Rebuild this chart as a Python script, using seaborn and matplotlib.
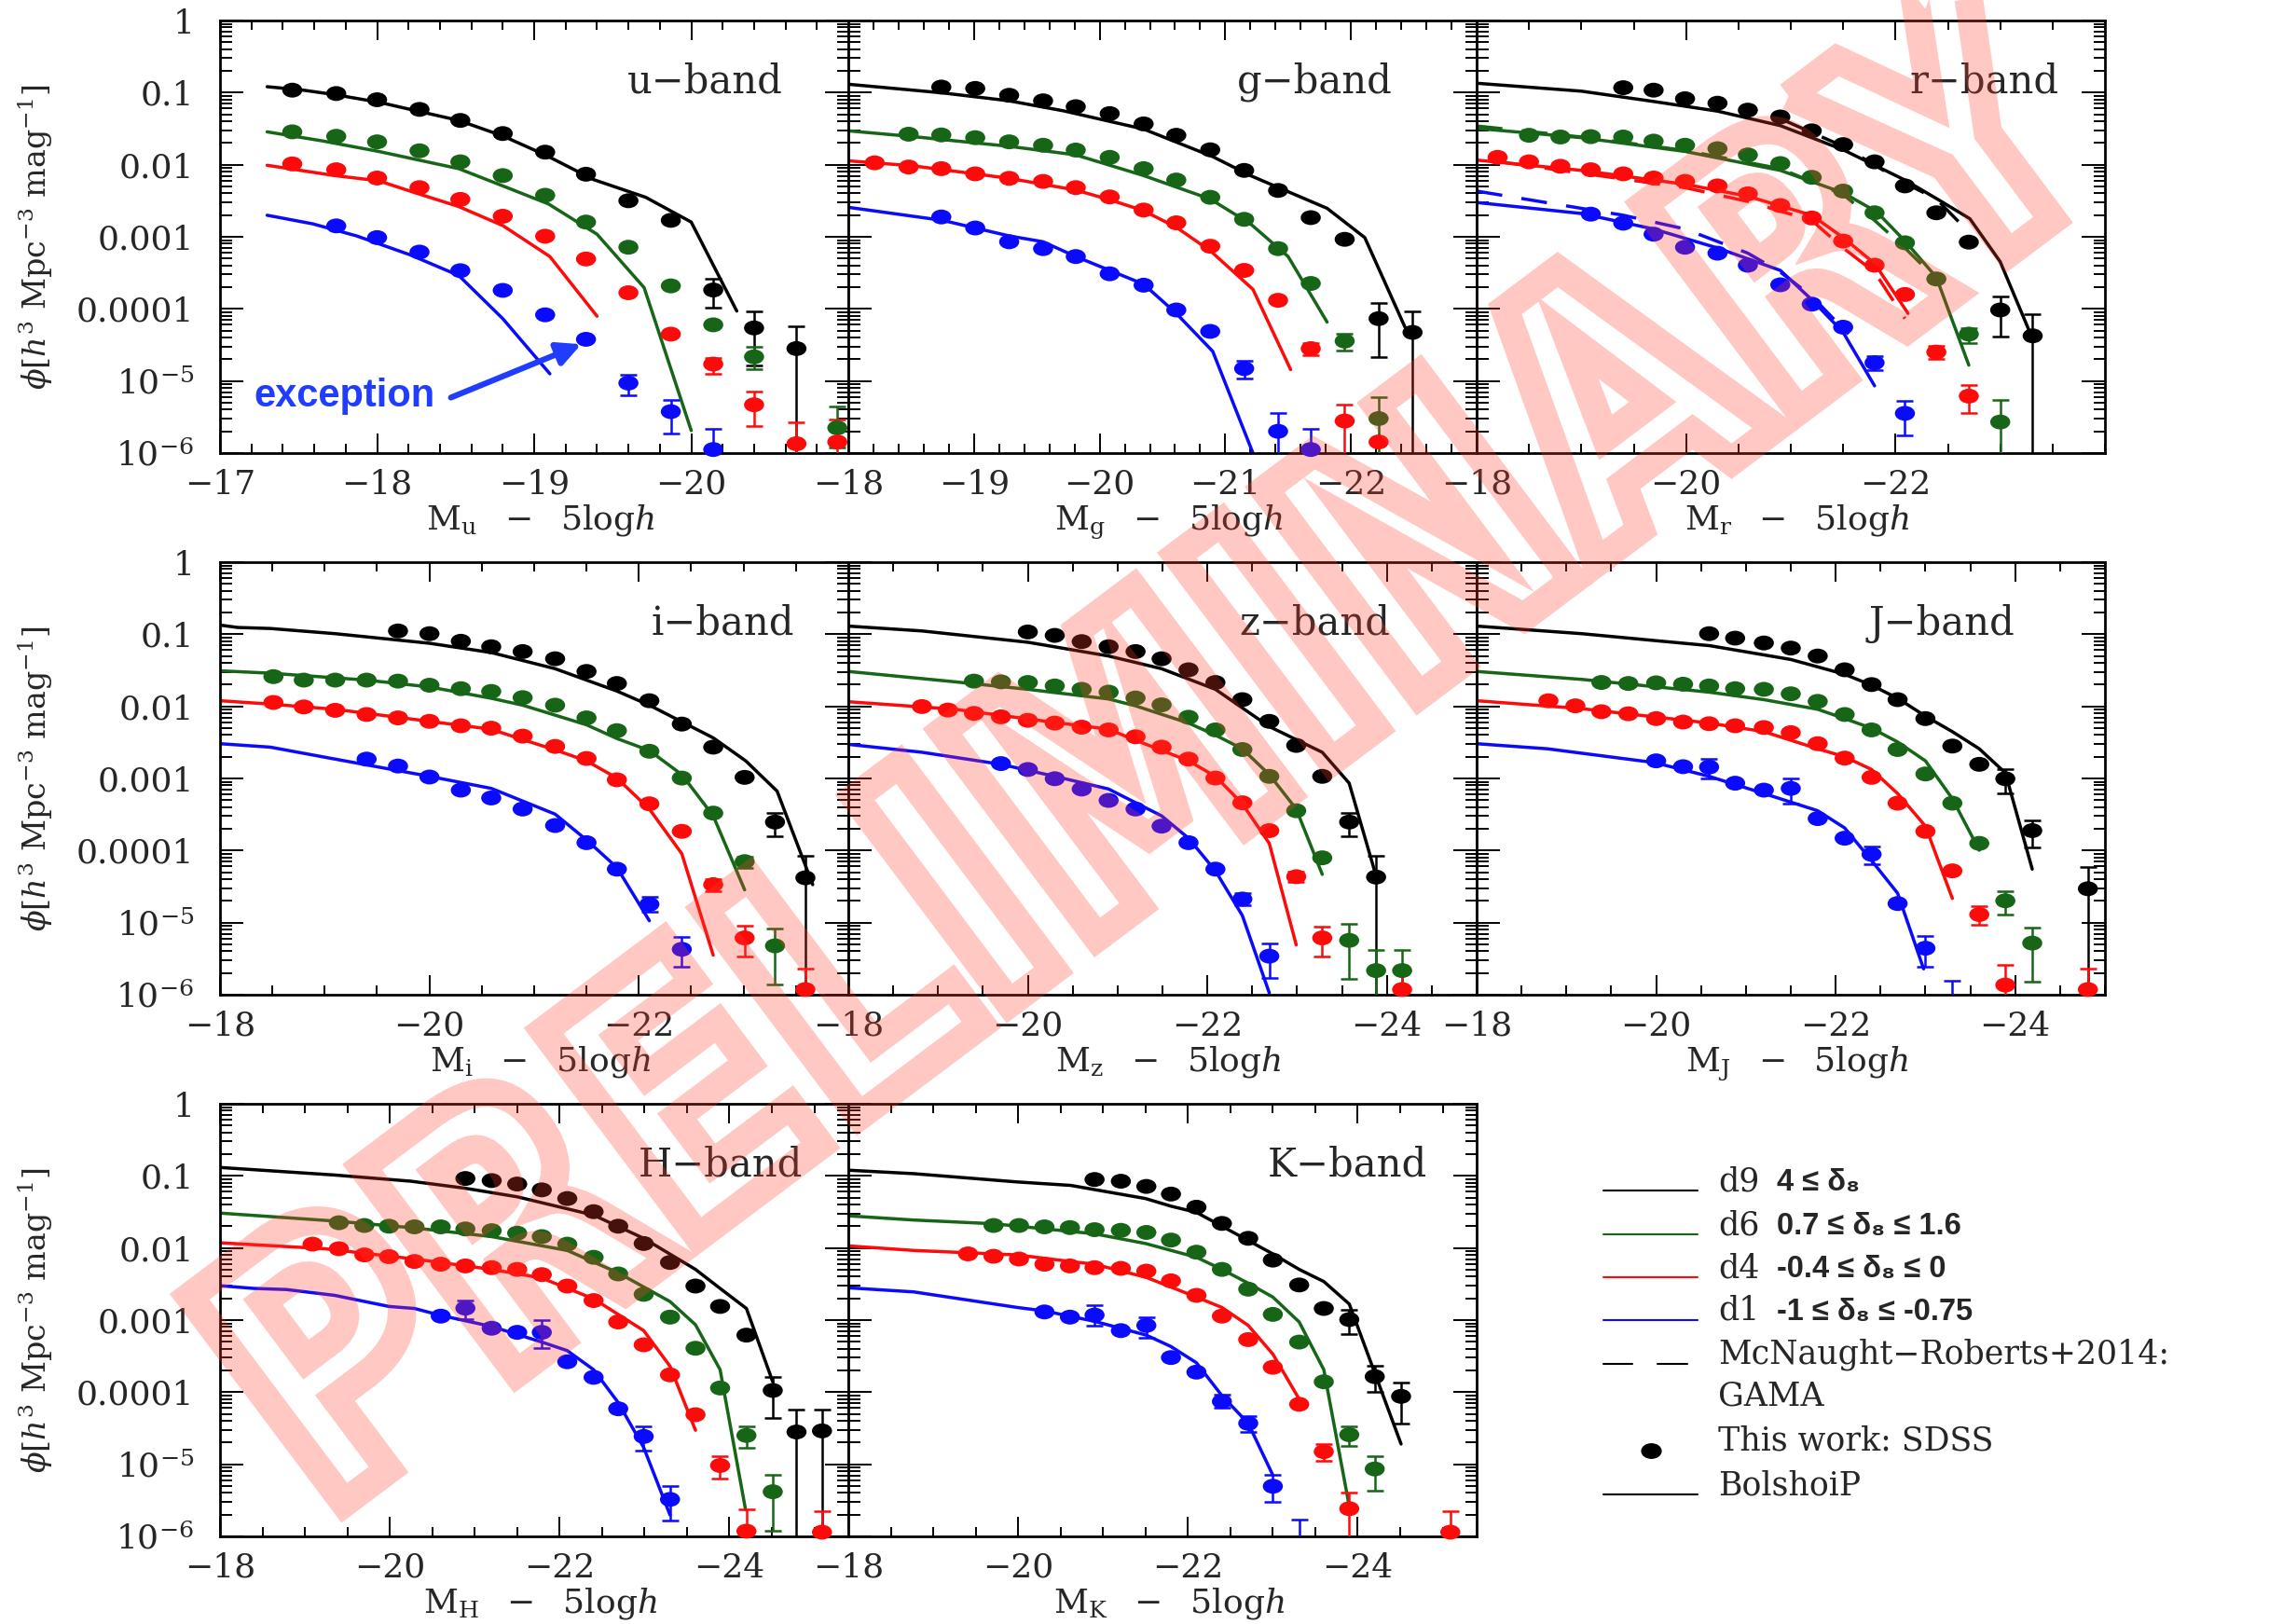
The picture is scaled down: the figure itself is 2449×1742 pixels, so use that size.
import numpy as np
import pandas as pd
import matplotlib
matplotlib.use("Agg")
import matplotlib.pyplot as plt
import seaborn as sns
from matplotlib.lines import Line2D
from matplotlib.path import Path
from matplotlib.textpath import TextPath
from matplotlib.patches import PathPatch
from matplotlib.font_manager import FontProperties
from matplotlib.transforms import Affine2D
from matplotlib.ticker import FixedLocator, MultipleLocator, LogLocator, NullFormatter, FixedFormatter, FuncFormatter

# ---------------------------------------------------------------------------
# Data: (absolute magnitude M - 5 log h, log10 phi)
# ---------------------------------------------------------------------------
DENSITIES = ["d9", "d6", "d4", "d1"]

# ---- u band
U_POINTS = {
    "d9": [(-17.46, -0.966), (-17.74, -1.013), (-18.00, -1.099), (-18.27, -1.233), (-18.53, -1.386),
           (-18.80, -1.568), (-19.07, -1.826), (-19.33, -2.132), (-19.60, -2.50), (-19.87, -2.772),
           (-20.14, -3.738), (-20.40, -4.264), (-20.67, -4.55)],
    "d6": [(-17.46, -1.544), (-17.74, -1.606), (-18.00, -1.683), (-18.27, -1.807), (-18.53, -1.960),
           (-18.80, -2.151), (-19.07, -2.424), (-19.33, -2.796), (-19.60, -3.145), (-19.87, -3.681),
           (-20.14, -4.221), (-20.40, -4.665), (-20.93, -5.65)],
    "d4": [(-17.46, -1.989), (-17.74, -2.07), (-18.00, -2.185), (-18.27, -2.318), (-18.53, -2.481),
           (-18.80, -2.715), (-19.07, -2.992), (-19.33, -3.308), (-19.60, -3.776), (-19.87, -4.35),
           (-20.14, -4.766), (-20.40, -5.33), (-20.67, -5.87), (-20.93, -5.846)],
    "d1": [(-17.74, -2.849), (-18.00, -3.011), (-18.27, -3.212), (-18.53, -3.47), (-18.80, -3.743),
           (-19.07, -4.082), (-19.33, -4.422), (-19.60, -5.029), (-19.87, -5.425), (-20.14, -5.951)],
}
U_MODEL = {
    "d9": [(-17.30, -0.918), (-17.53, -0.966), (-17.73, -1.028), (-18.01, -1.133), (-18.26, -1.257),
           (-18.52, -1.386), (-18.80, -1.601), (-19.07, -1.864), (-19.38, -2.208), (-19.71, -2.452),
           (-20.00, -2.796), (-20.29, -4.03)],
    "d6": [(-17.30, -1.544), (-17.66, -1.673), (-18.01, -1.816), (-18.52, -2.055), (-18.80, -2.294),
           (-19.09, -2.543), (-19.40, -2.964), (-19.70, -3.705), (-20.00, -5.688)],
    "d4": [(-17.30, -2.008), (-17.73, -2.151), (-18.01, -2.223), (-18.21, -2.366), (-18.52, -2.581),
           (-18.80, -2.844), (-19.10, -3.274), (-19.40, -4.101)],
    "d1": [(-17.30, -2.701), (-17.59, -2.820), (-17.87, -2.988), (-18.21, -3.25), (-18.52, -3.537),
           (-18.80, -4.135), (-19.10, -4.9)],
}
# error bars: (density, x, log10 top, log10 bottom)
U_ERRORS = [("d9", -20.14, -3.576, -3.977), ("d9", -20.40, -4.039, -4.790), ("d9", -20.67, -4.245, -6.5),
            ("d6", -20.40, -4.532, -4.837), ("d6", -20.93, -5.354, -5.927),
            ("d4", -20.14, -4.675, -4.900), ("d4", -20.40, -5.153, -5.631), ("d4", -20.67, -5.569, -6.5),
            ("d4", -20.93, -5.535, -6.5),
            ("d1", -19.60, -4.914, -5.201), ("d1", -19.87, -5.258, -5.727), ("d1", -20.14, -5.664, -6.5)]

# ---- g band
G_POINTS = {
    "d9": [(-18.74, -0.923), (-19.01, -0.942), (-19.28, -1.037), (-19.55, -1.114), (-19.81, -1.195),
           (-20.08, -1.291), (-20.35, -1.434), (-20.61, -1.592), (-20.88, -1.793), (-21.15, -2.079),
           (-21.42, -2.357), (-21.68, -2.734), (-21.95, -3.035), (-22.22, -4.135), (-22.49, -4.326)],
    "d6": [(-18.48, -1.577), (-18.74, -1.587), (-19.01, -1.625), (-19.28, -1.683), (-19.55, -1.730),
           (-19.81, -1.797), (-20.08, -1.898), (-20.35, -2.055), (-20.61, -2.213), (-20.88, -2.452),
           (-21.15, -2.758), (-21.42, -3.164), (-21.68, -3.647), (-21.95, -4.446), (-22.22, -5.521)],
    "d4": [(-18.21, -1.974), (-18.48, -2.032), (-18.74, -2.055), (-19.01, -2.127), (-19.28, -2.189),
           (-19.55, -2.232), (-19.81, -2.318), (-20.08, -2.447), (-20.35, -2.629), (-20.61, -2.806),
           (-20.88, -3.131), (-21.15, -3.466), (-21.42, -3.881), (-21.68, -4.551), (-21.95, -5.555),
           (-22.22, -5.846)],
    "d1": [(-18.74, -2.725), (-19.01, -2.878), (-19.28, -3.069), (-19.55, -3.164), (-19.81, -3.274),
           (-20.08, -3.513), (-20.35, -3.671), (-20.61, -4.015), (-20.88, -4.312), (-21.15, -4.828),
           (-21.42, -5.698), (-21.68, -5.951)],
}
G_MODEL = {
    "d9": [(-18.0, -0.884), (-18.75, -1.004), (-19.28, -1.114), (-19.71, -1.252), (-20.35, -1.506),
           (-20.90, -1.888), (-21.20, -2.151), (-21.81, -2.605), (-22.11, -3.011), (-22.43, -4.254)],
    "d6": [(-18.0, -1.530), (-18.52, -1.611), (-19.28, -1.745), (-19.81, -1.864), (-20.35, -2.151),
           (-20.88, -2.476), (-21.20, -2.820), (-21.50, -3.274), (-21.81, -4.183)],
    "d4": [(-18.0, -1.946), (-18.52, -2.017), (-19.28, -2.189), (-19.81, -2.352), (-20.08, -2.486),
           (-20.35, -2.639), (-20.61, -2.868), (-20.88, -3.193), (-21.22, -3.729), (-21.52, -4.842)],
    "d1": [(-18.0, -2.591), (-18.75, -2.772), (-19.28, -2.988), (-19.55, -3.069), (-19.81, -3.274),
           (-20.08, -3.466), (-20.35, -3.657), (-20.61, -4.063), (-20.90, -4.589), (-21.22, -6.0)],
}
G_ERRORS = [("d9", -22.22, -3.920, -4.670), ("d9", -22.49, -4.030, -6.5),
            ("d6", -21.95, -4.350, -4.579), ("d6", -22.22, -5.220, -6.5),
            ("d4", -21.68, -4.469, -4.637), ("d4", -21.95, -5.330, -6.5),
            ("d1", -21.15, -4.723, -4.962), ("d1", -21.42, -5.449, -6.5), ("d1", -21.68, -5.664, -6.5)]

# ---- r band
R_POINTS = {
    "d9": [(-19.40, -0.932), (-19.69, -0.966), (-19.99, -1.085), (-20.30, -1.147), (-20.59, -1.243),
           (-20.90, -1.338), (-21.20, -1.530), (-21.50, -1.721), (-21.80, -1.960), (-22.09, -2.294),
           (-22.39, -2.667), (-22.70, -3.074), (-23.00, -4.015), (-23.31, -4.374)],
    "d6": [(-18.50, -1.592), (-18.80, -1.616), (-19.09, -1.611), (-19.40, -1.616), (-19.69, -1.673),
           (-19.99, -1.730), (-20.30, -1.778), (-20.59, -1.864), (-20.90, -1.984), (-21.20, -2.175),
           (-21.50, -2.366), (-21.80, -2.667), (-22.09, -3.083), (-22.39, -3.585), (-22.70, -4.350),
           (-23.00, -5.569)],
    "d4": [(-18.20, -1.898), (-18.50, -1.960), (-18.80, -2.022), (-19.09, -2.070), (-19.40, -2.127),
           (-19.69, -2.185), (-19.99, -2.232), (-20.30, -2.294), (-20.59, -2.404), (-20.90, -2.567),
           (-21.20, -2.739), (-21.50, -3.059), (-21.80, -3.394), (-22.09, -3.800), (-22.39, -4.599),
           (-22.70, -5.210)],
    "d1": [(-19.09, -2.686), (-19.40, -2.811), (-19.69, -2.964), (-19.99, -3.145), (-20.30, -3.227),
           (-20.59, -3.394), (-20.90, -3.666), (-21.20, -3.934), (-21.50, -4.254), (-21.80, -4.747),
           (-22.09, -5.449)],
}
R_MODEL = {
    "d9": [(-18.0, -0.870), (-19.0, -0.980), (-19.69, -1.123), (-20.30, -1.257), (-20.90, -1.458),
           (-21.50, -1.793), (-22.09, -2.213), (-22.41, -2.486), (-22.71, -2.749), (-23.0, -3.346),
           (-23.29, -4.35)],
    "d6": [(-18.0, -1.496), (-19.0, -1.625), (-19.99, -1.816), (-20.90, -2.079), (-21.50, -2.39),
           (-21.82, -2.653), (-22.09, -3.059), (-22.39, -3.561), (-22.70, -4.78)],
    "d4": [(-18.0, -1.936), (-19.0, -2.079), (-19.99, -2.271), (-20.59, -2.438), (-21.20, -2.701),
           (-21.50, -3.011), (-21.80, -3.370), (-22.12, -4.063)],
    "d1": [(-18.0, -2.524), (-19.0, -2.677), (-19.69, -2.892), (-20.30, -3.155), (-20.90, -3.466),
           (-21.20, -3.872), (-21.50, -4.326), (-21.80, -5.067)],
}
# McNaught-Roberts+2014 GAMA (dashed), r band only
R_GAMA = {
    "d9": [(-20.90, -1.362), (-21.50, -1.745), (-22.09, -2.256), (-22.39, -2.476), (-22.72, -2.964)],
    "d6": [(-18.0, -1.463), (-19.0, -1.616), (-19.99, -1.802), (-20.90, -2.055), (-21.50, -2.414),
           (-21.80, -2.772), (-22.09, -3.155), (-22.39, -3.585)],
    "d4": [(-18.22, -1.960), (-19.99, -2.318), (-20.59, -2.510), (-21.20, -2.772), (-21.50, -3.155),
           (-21.80, -3.489), (-22.09, -4.135)],
    "d1": [(-18.0, -2.366), (-19.40, -2.701), (-19.99, -2.892), (-20.59, -3.227), (-20.90, -3.489),
           (-21.20, -3.824), (-21.55, -4.35)],
}
R_ERRORS = [("d9", -23.00, -3.824, -4.388), ("d9", -23.31, -4.073, -6.5),
            ("d6", -22.70, -4.264, -4.469), ("d6", -23.00, -5.268, -6.5),
            ("d4", -22.39, -4.517, -4.694), ("d4", -22.70, -5.057, -5.449),
            ("d1", -21.80, -4.660, -4.852), ("d1", -22.09, -5.282, -5.760)]

# ---- i band
I_POINTS = {
    "d9": [(-19.70, -0.954), (-20.00, -0.992), (-20.30, -1.097), (-20.59, -1.173), (-20.89, -1.240),
           (-21.20, -1.340), (-21.50, -1.516), (-21.79, -1.683), (-22.10, -1.922), (-22.41, -2.246),
           (-22.71, -2.566), (-23.01, -2.985), (-23.30, -3.605), (-23.59, -4.378)],
    "d6": [(-18.51, -1.588), (-18.80, -1.636), (-19.10, -1.636), (-19.40, -1.636), (-19.70, -1.650),
           (-20.00, -1.707), (-20.30, -1.755), (-20.59, -1.793), (-20.89, -1.879), (-21.20, -1.984),
           (-21.50, -2.160), (-21.79, -2.337), (-22.10, -2.623), (-22.41, -2.995), (-22.71, -3.481),
           (-23.01, -4.154), (-23.30, -5.322)],
    "d4": [(-18.51, -1.946), (-18.80, -2.008), (-19.10, -2.055), (-19.40, -2.113), (-19.70, -2.160),
           (-20.00, -2.208), (-20.30, -2.270), (-20.59, -2.303), (-20.89, -2.413), (-21.20, -2.556),
           (-21.50, -2.723), (-21.79, -3.019), (-22.10, -3.352), (-22.41, -3.734), (-22.71, -4.473),
           (-23.01, -5.212), (-23.59, -5.928)],
    "d1": [(-19.40, -2.732), (-19.70, -2.828), (-20.00, -2.980), (-20.30, -3.162), (-20.59, -3.271),
           (-20.89, -3.424), (-21.20, -3.653), (-21.50, -3.891), (-21.79, -4.258), (-22.10, -4.745),
           (-22.41, -5.370)],
}
I_MODEL = {
    "d9": [(-18.0, -0.873), (-18.17, -0.906), (-18.48, -0.920), (-19.10, -0.992), (-20.0, -1.125),
           (-20.59, -1.254), (-21.20, -1.478), (-21.50, -1.636), (-21.79, -1.788), (-22.10, -1.984),
           (-22.71, -2.437), (-23.02, -2.756), (-23.32, -3.176), (-23.66, -4.473)],
    "d6": [(-18.0, -1.507), (-18.48, -1.540), (-19.40, -1.636), (-20.0, -1.731), (-20.59, -1.888),
           (-20.89, -1.984), (-21.50, -2.256), (-21.79, -2.446), (-22.10, -2.613), (-22.41, -2.947),
           (-22.71, -3.519), (-23.01, -4.545)],
    "d4": [(-18.0, -1.922), (-18.48, -1.969), (-19.10, -2.041), (-20.0, -2.208), (-20.59, -2.318),
           (-20.89, -2.461), (-21.20, -2.604), (-21.50, -2.756), (-21.79, -2.995), (-22.10, -3.424),
           (-22.41, -4.044), (-22.71, -5.451)],
    "d1": [(-18.0, -2.518), (-18.48, -2.566), (-19.10, -2.732), (-20.0, -2.971), (-20.59, -3.138),
           (-21.20, -3.495), (-21.50, -3.853), (-21.79, -4.235), (-22.10, -4.974)],
}
I_ERRORS = [("d9", -23.30, -3.472, -3.796), ("d9", -23.59, -4.068, -6.5),
            ("d6", -23.01, -4.082, -4.235), ("d6", -23.30, -5.083, -5.856),
            ("d4", -22.71, -4.402, -4.559), ("d4", -23.01, -5.045, -5.465), ("d4", -23.59, -5.641, -6.5),
            ("d1", -22.10, -4.640, -4.845), ("d1", -22.41, -5.198, -5.618)]

# ---- z band
Z_POINTS = {
    "d9": [(-20.00, -0.968), (-20.30, -1.016), (-20.60, -1.102), (-20.90, -1.173), (-21.20, -1.240),
           (-21.49, -1.340), (-21.79, -1.493), (-22.09, -1.669), (-22.39, -1.907), (-22.69, -2.208),
           (-22.99, -2.542), (-23.28, -2.971), (-23.58, -3.605), (-23.88, -4.368)],
    "d6": [(-19.40, -1.650), (-19.70, -1.660), (-20.00, -1.669), (-20.30, -1.717), (-20.60, -1.764),
           (-20.90, -1.803), (-21.20, -1.884), (-21.49, -1.979), (-21.79, -2.151), (-22.09, -2.327),
           (-22.39, -2.599), (-22.69, -2.971), (-22.99, -3.448), (-23.28, -4.101), (-23.58, -5.246),
           (-23.88, -5.665), (-24.17, -5.665)],
    "d4": [(-18.82, -2.003), (-19.11, -2.051), (-19.40, -2.098), (-19.70, -2.146), (-20.00, -2.194),
           (-20.30, -2.232), (-20.60, -2.289), (-20.90, -2.327), (-21.20, -2.422), (-21.49, -2.566),
           (-21.79, -2.732), (-22.09, -2.995), (-22.39, -3.338), (-22.69, -3.724), (-22.99, -4.363),
           (-23.28, -5.212), (-24.17, -5.928)],
    "d1": [(-19.70, -2.794), (-20.00, -2.876), (-20.30, -3.004), (-20.60, -3.147), (-20.90, -3.305),
           (-21.20, -3.424), (-21.49, -3.662), (-21.79, -3.891), (-22.09, -4.258), (-22.39, -4.673),
           (-22.69, -5.465)],
}
Z_MODEL = {
    "d9": [(-18.0, -0.887), (-18.82, -0.954), (-20.0, -1.111), (-20.90, -1.302), (-21.49, -1.478),
           (-22.09, -1.764), (-22.69, -2.280), (-23.28, -2.637), (-23.58, -3.066), (-23.88, -4.354)],
    "d6": [(-18.0, -1.516), (-19.19, -1.660), (-20.0, -1.764), (-20.90, -1.898), (-21.20, -1.993),
           (-21.79, -2.232), (-22.09, -2.399), (-22.39, -2.589), (-22.69, -2.947), (-22.99, -3.424),
           (-23.28, -4.330)],
    "d4": [(-18.0, -1.936), (-19.19, -2.041), (-20.0, -2.175), (-20.90, -2.318), (-21.20, -2.470),
           (-21.79, -2.756), (-22.09, -2.971), (-22.39, -3.352), (-22.69, -3.901), (-22.99, -5.308)],
    "d1": [(-18.0, -2.527), (-18.82, -2.637), (-19.70, -2.804), (-20.30, -2.971), (-20.90, -3.147),
           (-21.49, -3.519), (-21.79, -3.829), (-22.09, -4.282), (-22.39, -4.902), (-22.69, -5.975)],
}
Z_ERRORS = [("d9", -23.58, -3.472, -3.796), ("d9", -23.88, -4.068, -6.5),
            ("d6", -23.58, -5.021, -5.784), ("d6", -23.88, -5.379, -6.5), ("d6", -24.17, -5.379, -6.5),
            ("d4", -22.99, -4.292, -4.440), ("d4", -23.28, -5.055, -5.465), ("d4", -24.17, -5.651, -6.5),
            ("d1", -22.39, -4.592, -4.759), ("d1", -22.69, -5.284, -5.761)]

# ---- J band
J_POINTS = {
    "d9": [(-20.59, -0.992), (-20.88, -1.054), (-21.20, -1.121), (-21.50, -1.192), (-21.80, -1.302),
           (-22.10, -1.493), (-22.40, -1.698), (-22.69, -1.907), (-23.00, -2.170), (-23.30, -2.551),
           (-23.60, -2.804), (-23.89, -3.004), (-24.19, -3.724), (-24.81, -4.530)],
    "d6": [(-19.39, -1.669), (-19.69, -1.683), (-20.00, -1.674), (-20.30, -1.693), (-20.59, -1.717),
           (-20.88, -1.755), (-21.20, -1.764), (-21.50, -1.826), (-21.80, -1.931), (-22.10, -2.113),
           (-22.40, -2.327), (-22.69, -2.599), (-23.00, -2.938), (-23.30, -3.343), (-23.60, -3.901),
           (-23.89, -4.697), (-24.19, -5.284)],
    "d4": [(-18.80, -1.922), (-19.10, -1.993), (-19.39, -2.074), (-19.69, -2.103), (-20.00, -2.170),
           (-20.30, -2.218), (-20.59, -2.241), (-20.88, -2.270), (-21.20, -2.294), (-21.50, -2.365),
           (-21.80, -2.518), (-22.10, -2.718), (-22.40, -2.985), (-22.69, -3.343), (-23.00, -3.734),
           (-23.30, -4.282), (-23.60, -4.888), (-23.89, -5.866), (-24.81, -5.928)],
    "d1": [(-20.00, -2.756), (-20.30, -2.837), (-20.59, -2.842), (-20.88, -3.066), (-21.20, -3.162),
           (-21.50, -3.138), (-21.80, -3.557), (-22.10, -3.829), (-22.40, -4.053), (-22.69, -4.735),
           (-23.00, -5.355)],
}
J_MODEL = {
    "d9": [(-18.0, -0.887), (-19.17, -0.992), (-19.98, -1.087), (-20.60, -1.159), (-21.50, -1.350),
           (-22.10, -1.555), (-22.40, -1.707), (-22.69, -1.888), (-23.0, -2.136), (-23.30, -2.351),
           (-23.60, -2.589), (-23.89, -2.923), (-24.19, -4.258)],
    "d6": [(-18.0, -1.516), (-19.17, -1.626), (-20.59, -1.803), (-21.20, -1.907), (-21.80, -2.041),
           (-22.10, -2.170), (-22.40, -2.303), (-22.69, -2.494), (-23.0, -2.756), (-23.30, -3.281),
           (-23.60, -3.996)],
    "d4": [(-18.0, -1.922), (-19.17, -2.032), (-19.98, -2.146), (-20.59, -2.232), (-21.20, -2.351),
           (-21.80, -2.589), (-22.10, -2.699), (-22.40, -2.876), (-22.69, -3.209), (-23.0, -3.662),
           (-23.30, -4.664)],
    "d1": [(-18.0, -2.518), (-18.79, -2.589), (-19.98, -2.780), (-20.59, -2.971), (-21.20, -3.209),
           (-21.80, -3.448), (-22.10, -3.686), (-22.40, -4.139), (-22.69, -4.592), (-22.98, -5.641)],
}
J_ERRORS = [("d9", -23.89, -2.876, -3.209), ("d9", -24.19, -3.577, -3.958), ("d9", -24.81, -4.225, -6.5),
            ("d6", -23.89, -4.559, -4.893), ("d6", -24.19, -5.069, -5.818),
            ("d4", -23.60, -4.769, -5.036), ("d4", -23.89, -5.580, -6.5), ("d4", -24.81, -5.641, -6.5),
            ("d1", -20.59, -2.733, -2.995), ("d1", -21.50, -2.995, -3.352), ("d1", -22.40, -3.948, -4.187),
            ("d1", -23.00, -5.188, -5.608), ("d1", -23.30, -5.80, -6.5)]

# ---- H band
H_POINTS = {
    "d9": [(-20.89, -1.036), (-21.20, -1.065), (-21.50, -1.113), (-21.79, -1.194), (-22.09, -1.314),
           (-22.40, -1.496), (-22.69, -1.698), (-22.99, -1.938), (-23.30, -2.201), (-23.60, -2.528),
           (-23.89, -2.811), (-24.20, -3.209), (-24.51, -3.976), (-24.79, -4.552), (-25.09, -4.537)],
    "d6": [(-19.40, -1.650), (-19.70, -1.688), (-19.99, -1.698), (-20.29, -1.707), (-20.60, -1.707),
           (-20.89, -1.736), (-21.20, -1.760), (-21.50, -1.794), (-21.79, -1.842), (-22.09, -1.947),
           (-22.40, -2.129), (-22.69, -2.360), (-22.99, -2.643), (-23.30, -2.959), (-23.60, -3.391),
           (-23.89, -3.942), (-24.20, -4.600), (-24.51, -5.381)],
    "d4": [(-19.09, -1.947), (-19.40, -2.010), (-19.70, -2.096), (-19.99, -2.120), (-20.29, -2.187),
           (-20.60, -2.225), (-20.89, -2.249), (-21.20, -2.273), (-21.50, -2.297), (-21.79, -2.369),
           (-22.09, -2.528), (-22.40, -2.729), (-22.69, -3.026), (-22.99, -3.343), (-23.30, -3.760),
           (-23.60, -4.312), (-23.89, -5.017), (-24.20, -5.928), (-25.09, -5.942)],
    "d1": [(-20.60, -2.945), (-20.89, -2.835), (-21.20, -3.113), (-21.50, -3.170), (-21.79, -3.170),
           (-22.09, -3.578), (-22.40, -3.794), (-22.69, -4.230), (-22.99, -4.614), (-23.30, -5.487)],
}
H_MODEL = {
    "d9": [(-18.0, -0.883), (-19.35, -0.988), (-20.25, -1.074), (-20.88, -1.170), (-21.50, -1.290),
           (-22.40, -1.544), (-22.99, -1.866), (-23.60, -2.297), (-23.89, -2.561), (-24.20, -2.839),
           (-24.51, -3.856)],
    "d6": [(-18.0, -1.516), (-19.35, -1.626), (-20.29, -1.722), (-21.20, -1.842), (-22.09, -2.034),
           (-22.69, -2.345), (-23.30, -2.743), (-23.60, -3.065), (-23.89, -3.688), (-24.19, -5.631)],
    "d4": [(-18.0, -1.928), (-19.23, -2.010), (-20.29, -2.153), (-21.20, -2.297), (-21.79, -2.417),
           (-22.40, -2.705), (-22.99, -3.146), (-23.30, -3.640), (-23.60, -4.528)],
    "d1": [(-18.0, -2.523), (-18.40, -2.561), (-18.78, -2.576), (-19.35, -2.657), (-19.99, -2.811),
           (-20.29, -2.839), (-20.60, -2.935), (-21.20, -3.089), (-21.79, -3.305), (-22.09, -3.424),
           (-22.40, -3.688), (-22.69, -4.144), (-22.99, -4.767), (-23.30, -5.703)],
}
H_ERRORS = [("d9", -24.51, -3.784, -4.360), ("d9", -24.79, -4.240, -6.5), ("d9", -25.09, -4.240, -6.5),
            ("d6", -24.20, -4.480, -4.767), ("d6", -24.51, -5.151, -5.918),
            ("d4", -23.89, -4.887, -5.199), ("d4", -24.20, -5.631, -6.5), ("d4", -25.09, -5.655, -6.5),
            ("d1", -20.89, -2.729, -2.983), ("d1", -21.79, -3.002, -3.391), ("d1", -22.99, -4.480, -4.815),
            ("d1", -23.30, -5.305, -5.784)]

# ---- K band
K_POINTS = {
    "d9": [(-20.90, -1.050), (-21.21, -1.074), (-21.51, -1.146), (-21.80, -1.252), (-22.10, -1.434),
           (-22.40, -1.659), (-22.71, -1.866), (-23.00, -2.168), (-23.31, -2.513), (-23.60, -2.839),
           (-23.90, -2.993), (-24.20, -3.784), (-24.51, -4.058)],
    "d6": [(-19.71, -1.688), (-20.01, -1.688), (-20.31, -1.707), (-20.61, -1.717), (-20.90, -1.746),
           (-21.21, -1.755), (-21.51, -1.784), (-21.80, -1.890), (-22.10, -2.058), (-22.40, -2.297),
           (-22.71, -2.571), (-23.00, -2.921), (-23.31, -3.305), (-23.60, -3.856), (-23.90, -4.590),
           (-24.20, -5.065)],
    "d4": [(-19.41, -2.082), (-19.71, -2.115), (-20.01, -2.153), (-20.31, -2.225), (-20.61, -2.249),
           (-20.90, -2.273), (-21.21, -2.283), (-21.51, -2.321), (-21.80, -2.456), (-22.10, -2.657),
           (-22.40, -2.945), (-22.71, -3.271), (-23.00, -3.655), (-23.31, -4.168), (-23.60, -4.825),
           (-23.90, -5.616), (-25.09, -5.942)],
    "d1": [(-20.31, -2.887), (-20.61, -2.959), (-20.90, -2.930), (-21.21, -3.146), (-21.51, -3.074),
           (-21.80, -3.520), (-22.10, -3.722), (-22.40, -4.129), (-22.71, -4.432), (-23.00, -5.305)],
}
K_MODEL = {
    "d9": [(-18.0, -0.921), (-18.77, -0.969), (-19.99, -1.084), (-20.62, -1.132), (-21.50, -1.314),
           (-21.80, -1.420), (-22.10, -1.506), (-22.40, -1.698), (-23.0, -2.082), (-23.31, -2.297),
           (-23.60, -2.465), (-23.90, -2.777), (-24.51, -4.719)],
    "d6": [(-18.0, -1.554), (-18.77, -1.612), (-19.71, -1.664), (-20.90, -1.803), (-21.50, -1.938),
           (-22.10, -2.129), (-22.40, -2.297), (-22.71, -2.489), (-23.0, -2.681), (-23.31, -3.026),
           (-23.60, -3.688), (-23.90, -5.583)],
    "d4": [(-18.0, -1.971), (-18.77, -2.034), (-19.99, -2.096), (-20.61, -2.187), (-20.90, -2.225),
           (-21.51, -2.408), (-22.10, -2.681), (-22.40, -2.825), (-22.71, -3.074), (-23.0, -3.472),
           (-23.31, -4.096)],
    "d1": [(-18.0, -2.552), (-18.77, -2.609), (-19.99, -2.825), (-20.31, -2.873), (-20.90, -3.017),
           (-21.51, -3.209), (-21.80, -3.367), (-22.10, -3.592), (-22.40, -4.048), (-22.71, -4.432),
           (-23.0, -5.151)],
}
K_ERRORS = [("d9", -23.90, -2.858, -3.194), ("d9", -24.20, -3.640, -4.0), ("d9", -24.51, -3.866, -4.432),
            ("d6", -23.90, -4.480, -4.743), ("d6", -24.20, -4.887, -5.367),
            ("d4", -23.60, -4.719, -4.959), ("d4", -23.90, -5.391, -6.5), ("d4", -25.09, -5.655, -6.5),
            ("d1", -20.90, -2.791, -3.079), ("d1", -21.51, -2.959, -3.242), ("d1", -22.40, -4.038, -4.216),
            ("d1", -22.71, -4.336, -4.552), ("d1", -23.00, -5.151, -5.525), ("d1", -23.31, -5.765, -6.5)]

BAND_NAMES = ["u", "g", "r", "i", "z", "J", "H", "K"]
Y_TICK_VALUES = [1e-6, 1e-5, 1e-4, 1e-3, 1e-2, 1e-1, 1.0]
Y_TICK_LABELS = ["$10^{-6}$", "$10^{-5}$", "0.0001", "0.001", "0.01", "0.1", "1"]
LEGEND_RANGES = ["4 \u2264 \u03b4\u2088", "0.7 \u2264 \u03b4\u2088 \u2264 1.6",
                 "-0.4 \u2264 \u03b4\u2088 \u2264 0", "-1 \u2264 \u03b4\u2088 \u2264 -0.75"]

# ---------------------------------------------------------------------------
# Style
# ---------------------------------------------------------------------------
PAL = {"d9": "#000000", "d6": "#176617", "d4": "#ff0a0a", "d1": "#0a0aff"}
sns.set_theme(style="ticks")
plt.rcParams["font.family"] = ["DejaVu Serif"]
plt.rcParams["mathtext.fontset"] = "dejavuserif"
plt.rcParams["axes.linewidth"] = 2.0

W, H = 2449, 1742
fig = plt.figure(figsize=(W / 100, H / 100), dpi=100)
fig.patch.set_facecolor("white")

COL_X = [236, 910, 1584]
ROW_Y = [22, 603, 1184]
PW, PH = 674, 464

# ellipse marker (points in the reference are slightly wider than tall)
_circ = Path.unit_circle()
ELLIPSE = Path(_circ.vertices * np.array([1.0, 0.74]), _circ.codes)

PANELS = [
    # band, row, col, xlim, major, minor, label-x, points, model, errors, gama
    ("u", 0, 0, (-17, -21), 1, 0.2, 0.772, U_POINTS, U_MODEL, U_ERRORS, None),
    ("g", 0, 1, (-18, -23), 1, 0.2, 0.743, G_POINTS, G_MODEL, G_ERRORS, None),
    ("r", 0, 2, (-18, -24), 2, 0.5, 0.808, R_POINTS, R_MODEL, R_ERRORS, R_GAMA),
    ("i", 1, 0, (-18, -24), 2, 0.5, 0.800, I_POINTS, I_MODEL, I_ERRORS, None),
    ("z", 1, 1, (-18, -25), 2, 0.5, 0.742, Z_POINTS, Z_MODEL, Z_ERRORS, None),
    ("J", 1, 2, (-18, -25), 2, 0.5, 0.740, J_POINTS, J_MODEL, J_ERRORS, None),
    ("H", 2, 0, (-18, -25.4), 2, 0.5, 0.796, H_POINTS, H_MODEL, H_ERRORS, None),
    ("K", 2, 1, (-18, -25.4), 2, 0.5, 0.795, K_POINTS, K_MODEL, K_ERRORS, None),
]


def to_frame(d):
    rows = []
    for dens in DENSITIES:
        for x, lg in d[dens]:
            rows.append((dens, x, 10.0 ** lg))
    return pd.DataFrame(rows, columns=["dens", "x", "phi"])


axes = {}
for band, row, col, xl, major, minor, labx, pts, mod, errs, gama in PANELS:
    ax = fig.add_axes([COL_X[col] / W, 1 - (ROW_Y[row] + PH) / H, PW / W, PH / H])
    axes[band] = ax
    ax.set_facecolor("white")
    ax.set_yscale("log")

    mdf = to_frame(mod)
    sns.lineplot(data=mdf, x="x", y="phi", hue="dens", hue_order=DENSITIES, palette=PAL,
                 estimator=None, sort=False, legend=False, linewidth=2.5, ax=ax, zorder=2)
    if gama is not None:
        gdf = to_frame(gama)
        sns.lineplot(data=gdf, x="x", y="phi", hue="dens", hue_order=DENSITIES, palette=PAL,
                     estimator=None, sort=False, legend=False, linewidth=2.5,
                     linestyle=(0, (8, 6)), ax=ax, zorder=2)

    for dens, x, top, bot in errs:
        ax.errorbar([x], [10.0 ** bot], yerr=[[0.0], [10.0 ** top - 10.0 ** bot]], fmt="none",
                    ecolor=PAL[dens], elinewidth=1.8, capsize=6.5, capthick=1.8, zorder=3)

    pdf = to_frame(pts)
    sns.scatterplot(data=pdf, x="x", y="phi", hue="dens", hue_order=DENSITIES, palette=PAL,
                    s=240, marker=ELLIPSE, linewidth=0, legend=False, ax=ax, zorder=4, clip_on=False)

    ax.set_xlim(*xl)
    ax.set_ylim(1e-6, 1)

    majors = list(np.arange(xl[0], xl[1], -major))
    majors = [m for m in majors if abs(m - xl[1]) > 1e-6]
    ax.xaxis.set_major_locator(FixedLocator(majors))
    ax.xaxis.set_minor_locator(MultipleLocator(minor))
    ax.xaxis.set_major_formatter(FuncFormatter(lambda v, p: "\u2212%d" % abs(round(v))))
    ax.yaxis.set_major_locator(FixedLocator(Y_TICK_VALUES))
    ax.yaxis.set_minor_locator(LogLocator(base=10, subs=np.arange(2, 10), numticks=30))
    ax.yaxis.set_minor_formatter(NullFormatter())
    ax.yaxis.set_major_formatter(FixedFormatter(Y_TICK_LABELS))

    ax.tick_params(which="both", direction="in", top=True, right=True, width=1.4, color="black")
    ax.tick_params(axis="x", which="major", length=15, pad=12, labelsize=26)
    ax.tick_params(axis="x", which="minor", length=7.5)
    ax.tick_params(axis="y", which="major", length=18, pad=20, labelsize=26)
    ax.tick_params(axis="y", which="minor", length=9)
    for s in ax.spines.values():
        s.set_linewidth(2.0)
        s.set_color("black")
    ax.grid(False)

    ax.set_xlabel(r"$\mathrm{M_{%s}}\ \ -\ \ 5\mathrm{log}h$" % band, fontsize=26)
    ax.xaxis.set_label_coords(0.51, -0.115)
    if col == 0:
        ax.set_ylabel(r"$\phi[h^3\ \mathrm{Mpc^{-3}\ mag^{-1}}]$", fontsize=24)
        ax.yaxis.set_label_coords(-0.262, 0.5)
    else:
        ax.set_ylabel("")
        ax.tick_params(axis="y", labelleft=False)

    ax.text(labx, 0.832, "%s\u2212band" % band, transform=ax.transAxes, ha="center",
            va="baseline", fontsize=30)

# "exception" annotation in the u panel
axu = axes["u"]
axu.text(-17.79, 10 ** -5.21, "exception", color="#1f3cff", fontsize=30, fontweight="bold",
         family=["Liberation Sans", "DejaVu Sans"], ha="center", va="center", zorder=6)
axu.annotate("", xy=(-19.30, 10 ** -4.49), xytext=(-18.47, 10 ** -5.23),
             arrowprops=dict(arrowstyle="-|>", color="#1f3cff", lw=4.5, mutation_scale=38,
                             shrinkA=0, shrinkB=0), zorder=6)

# ---------------------------------------------------------------------------
# Legend (drawn in figure pixels)
# ---------------------------------------------------------------------------
def fx(px):
    return px / W


def fy(py):
    return 1 - py / H


LEG_LINE_X = (1720, 1821)
LEG_TEXT_X = 1843
LEG_BOLD_X = 1906
leg_rows = [1277, 1324, 1370, 1416]
for dens, yy, rng in zip(DENSITIES, leg_rows, LEGEND_RANGES):
    fig.add_artist(Line2D([fx(LEG_LINE_X[0]), fx(LEG_LINE_X[1])], [fy(yy), fy(yy)],
                          color=PAL[dens], lw=1.5, transform=fig.transFigure))
    fig.text(fx(LEG_TEXT_X), fy(yy), dens, fontsize=25, va="baseline", ha="left")
    fig.text(fx(LEG_BOLD_X), fy(yy), rng, fontsize=23.5, fontweight="bold", va="baseline", ha="left",
             family=["Liberation Sans", "DejaVu Sans"])

for x0, x1 in [(1720, 1751), (1778, 1810)]:
    fig.add_artist(Line2D([fx(x0), fx(x1)], [fy(1463), fy(1463)], color="black", lw=1.5,
                          transform=fig.transFigure))
fig.text(fx(LEG_TEXT_X), fy(1463), "McNaught\u2212Roberts+2014:", fontsize=25, va="baseline")
fig.text(fx(LEG_TEXT_X), fy(1508), "GAMA", fontsize=25, va="baseline")
fig.add_artist(Line2D([fx(1771)], [fy(1556)], marker=ELLIPSE, markersize=15, color="black",
                      lw=0, transform=fig.transFigure))
fig.text(fx(LEG_TEXT_X), fy(1555), "This work: SDSS", fontsize=25, va="baseline")
fig.add_artist(Line2D([fx(1720), fx(1821)], [fy(1603), fy(1603)], color="black", lw=1.5,
                      transform=fig.transFigure))
fig.text(fx(LEG_TEXT_X), fy(1603), "BolshoiP", fontsize=25, va="baseline")

# ---------------------------------------------------------------------------
# PRELIMINARY watermark (outlined, translucent)
# ---------------------------------------------------------------------------
tp = TextPath((0, 0), "PRELIMINARY", size=1, prop=FontProperties(family="DejaVu Sans", weight="bold"))
ext = tp.get_extents()
scale = 23.8 / ext.width
cx, cy = (ext.x0 + ext.x1) / 2, (ext.y0 + ext.y1) / 2
tr = (Affine2D().translate(-cx, -cy).scale(scale * 1.0, scale * 1.2).rotate_deg(36.9).translate(12.38, 9.55)
      + fig.dpi_scale_trans)
fig.add_artist(PathPatch(tp, facecolor="none", edgecolor=(1.0, 0.235, 0.16, 0.28), lw=22,
                         joinstyle="miter", transform=tr, zorder=20))

fig.savefig("out.png", dpi=100, facecolor="white")
